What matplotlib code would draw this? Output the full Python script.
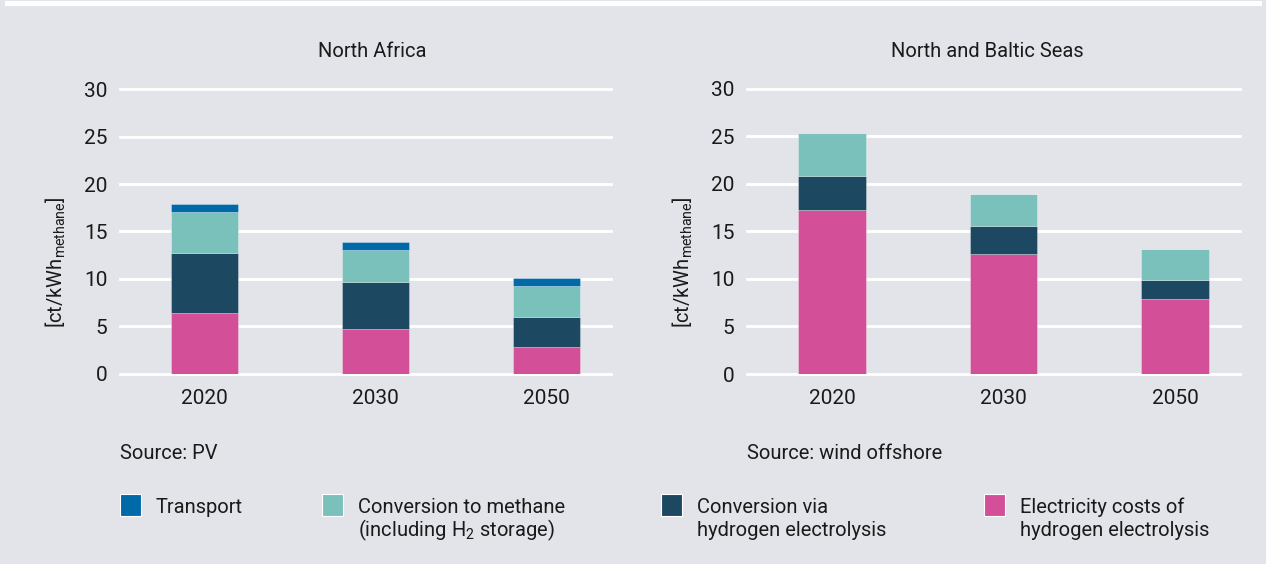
import matplotlib
matplotlib.use("Agg")
import matplotlib.pyplot as plt
from matplotlib.patches import Rectangle
import numpy as np

plt.rcParams["font.family"] = ["Roboto", "DejaVu Sans"]
plt.rcParams["mathtext.fontset"] = "custom"
plt.rcParams["mathtext.rm"] = "Roboto"
plt.rcParams["mathtext.default"] = "regular"

years = ["2020", "2030", "2050"]

# North Africa (source: PV), ct/kWh methane
na_electricity = [6.4, 4.7, 2.8]
na_electrolysis = [6.3, 5.0, 3.2]
na_methanation = [4.3, 3.3, 3.2]
na_transport = [0.9, 0.9, 0.9]

# North and Baltic Seas (source: wind offshore)
nb_electricity = [17.2, 12.6, 7.9]
nb_electrolysis = [3.6, 3.0, 2.0]
nb_methanation = [4.5, 3.3, 3.2]
nb_transport = [0.0, 0.0, 0.0]

labels = ["Transport", "Conversion to methane\n(including H$_2$ storage)",
          "Conversion via\nhydrogen electrolysis", "Electricity costs of\nhydrogen electrolysis"]
colors = ["#006aa8", "#7ac1bb", "#1d4861", "#d35098"]

BG = "#e3e4e9"
TXT = "#1a1a1a"
W, H = 1266, 564
FS = 14.5

fig = plt.figure(figsize=(W / 100, H / 100), dpi=100, facecolor=BG)
fig.patches.append(Rectangle((5 / W, (H - 6) / H), 1257 / W, 5 / H,
                             transform=fig.transFigure, facecolor="white",
                             edgecolor="none", zorder=0))


def fx(px):
    return px / W


def fy(py):
    return (H - py) / H


def panel(x0, x1, ytop, ybot, title, title_x, source, series):
    ax = fig.add_axes([fx(x0), fy(ybot), fx(x1 - x0), (ybot - ytop) / H])
    ax.set_facecolor(BG)
    x = np.arange(len(years))
    bottom = np.zeros(len(years))
    # stack from bottom: electricity, electrolysis, methanation, transport
    for vals, c in zip(series, colors[::-1]):
        vals = np.array(vals)
        ax.bar(x, vals, 0.395, bottom=bottom, color=c, edgecolor=(1, 1, 1, 0.35),
               linewidth=0.6, zorder=3)
        bottom += vals
    ax.set_xlim(-0.496, 2.378)
    ax.set_ylim(0, 30)
    ax.set_yticks(range(0, 31, 5))
    ax.set_xticks(x)
    ax.set_xticklabels(years)
    ax.tick_params(axis="both", length=0, labelsize=15, colors=TXT)
    ax.tick_params(axis="y", pad=9)
    ax.tick_params(axis="x", pad=11)
    ax.grid(axis="y", color="white", linewidth=2.0, zorder=0)
    ax.set_axisbelow(True)
    for gl in ax.get_ygridlines():
        gl.set_clip_on(False)
    for s in ax.spines.values():
        s.set_visible(False)
    fig.text(fx(title_x), fy(57), title, ha="center", va="baseline", fontsize=FS, color=TXT)
    fig.text(fx(x0), fy(459), source, ha="left", va="baseline", fontsize=FS, color=TXT)
    fig.text(fx(x0 - 64), fy(262), r"[ct/kWh$_{methane}$]", rotation=90,
             ha="center", va="center", fontsize=FS, color=TXT)
    return ax


panel(120, 611, 89.3, 373.5, "North Africa", 372.5, "Source: PV",
      [na_electricity, na_electrolysis, na_methanation, na_transport])
panel(747, 1240, 88.5, 374, "North and Baltic Seas", 987.5, "Source: wind offshore",
      [nb_electricity, nb_electrolysis, nb_methanation, nb_transport])

# legend
leg_x = [120, 322, 661, 984]
for lx, lab, c in zip(leg_x, labels, colors):
    fig.patches.append(Rectangle((fx(lx), fy(516)), fx(21), 22 / H,
                                 transform=fig.transFigure, facecolor=c,
                                 edgecolor="white", linewidth=0.8))
    for i, line in enumerate(lab.split("\n")):
        fig.text(fx(lx + 36), fy(513 + 23.5 * i), line, ha="left", va="baseline",
                 fontsize=FS, color=TXT)

fig.savefig("out.png", dpi=100, facecolor=BG)
